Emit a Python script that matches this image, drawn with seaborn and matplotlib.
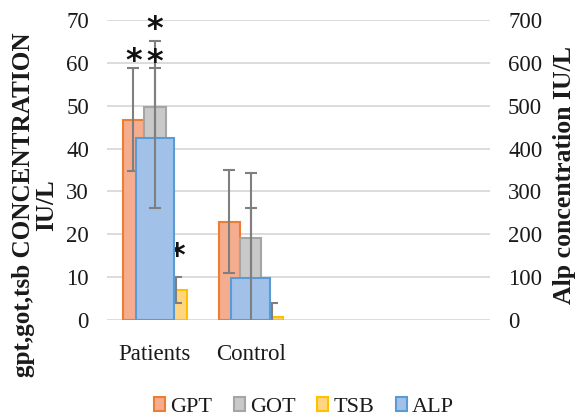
import numpy as np
import pandas as pd
import seaborn as sns
import matplotlib.pyplot as plt
from matplotlib.patches import Patch

# ---- data ----
slots = ["Patients", "Control", " ", "  "]          # two labelled groups + two empty slots
groups = ["Patients", "Control"]
tests = ["GPT", "GOT", "TSB"]
gpt_mean = [46.7, 22.9]
gpt_sd = [12.0, 12.0]
got_mean = [49.8, 19.1]
got_sd = [15.2, 15.3]
tsb_mean = [7.0, 0.8]
tsb_sd = [3.0, 3.2]
alp_mean = [424.0, 99.0]
alp_sd = [163.0, 163.0]
# significance stars: (series, group, height on left axis)
stars = [("GPT", "Patients", 61.8), ("GOT", "Patients", 69.3),
         ("GOT", "Patients", 61.4), ("TSB", "Patients", 16.3)]
left_title = "gpt,got,tsb CONCENTRATION\nIU/L"
right_title = "Alp concentration IU/L"

fills = {"GPT": "#F5AD8E", "GOT": "#C9C9C9", "TSB": "#FFD580", "ALP": "#A2C1E8"}
edges = {"GPT": "#ED7D31", "GOT": "#A5A5A5", "TSB": "#FFC000", "ALP": "#5B9BD5"}
err_col = "#7F7F7F"
txt_col = "#1A1A1A"

sns.set_theme(style="white")
plt.rcParams["font.family"] = ["Liberation Serif", "DejaVu Serif"]

means = {"GPT": gpt_mean, "GOT": got_mean, "TSB": tsb_mean}
sds = {"GPT": gpt_sd, "GOT": got_sd, "TSB": tsb_sd}
rows = []
for t in tests:
    for g, m in zip(groups, means[t]):
        rows.append({"group": g, "test": t, "value": m})
df = pd.DataFrame(rows)
df_alp = pd.DataFrame({"group": groups, "value": alp_mean})

W, H = 577, 420
fig = plt.figure(figsize=(W / 100, H / 100), dpi=100)
ax = fig.add_axes([107 / W, 1 - 320 / H, 383 / W, 300 / H])

sns.barplot(data=df, x="group", y="value", hue="test", order=slots,
            hue_order=tests, palette=fills, width=0.67, errorbar=None,
            saturation=1, legend=False, ax=ax, linewidth=1.5)

centers = {}
for cont, t in zip(ax.containers, tests):
    bars = sorted(cont, key=lambda b: b.get_x())
    xs = []
    for b in bars:
        b.set_edgecolor(edges[t])
        b.set_linewidth(1.5)
        xs.append(b.get_x() + b.get_width() / 2)
    centers[t] = xs
    ax.errorbar(xs, means[t], yerr=sds[t], fmt="none", ecolor=err_col,
                elinewidth=1.5, capsize=4, capthick=1.5, zorder=3)

ax.set_ylim(0, 70)
ax.set_yticks(np.arange(0, 71, 10))
ax.yaxis.grid(True, color="#D9D9D9", lw=1.3)
ax.set_axisbelow(True)
for s in ax.spines.values():
    s.set_visible(False)
ax.tick_params(axis="both", length=0, labelsize=16.5, colors=txt_col)
ax.tick_params(axis="y", pad=13)
ax.tick_params(axis="x", pad=17)
ax.set_xlabel("")
ax.set_ylabel("")

ax2 = ax.twinx()
sns.barplot(data=df_alp, x="group", y="value", order=slots, color=fills["ALP"],
            width=0.40, errorbar=None, saturation=1, ax=ax2,
            edgecolor=edges["ALP"], linewidth=1.5)
alp_x = [b.get_x() + b.get_width() / 2 for b in sorted(ax2.patches, key=lambda b: b.get_x())]
ax2.errorbar(alp_x, alp_mean, yerr=alp_sd, fmt="none", ecolor=err_col,
             elinewidth=1.5, capsize=4, capthick=1.5, zorder=3)
ax2.set_ylim(0, 700)
ax2.set_yticks(np.arange(0, 701, 100))
ax2.grid(False)
for s in ax2.spines.values():
    s.set_visible(False)
ax2.tick_params(axis="y", length=0, labelsize=16.5, pad=13, colors=txt_col)
ax2.set_ylabel("")
ax2.set_xlabel("")
ax.set_xlim(-0.5, 3.5)
ax2.set_xlim(-0.5, 3.5)

for t, g, yv in stars:
    x = centers[t][groups.index(g)]
    ax.annotate("*", (x, yv), xytext=(0, -10.5), textcoords="offset points",
                ha="center", va="baseline", fontsize=23, fontweight="bold",
                family="DejaVu Sans", color="#111111", zorder=5,
                annotation_clip=False)

# axis titles: placed by centre and fitted to the length seen in the reference
def axis_title(text, cx, cy, length_px):
    t = fig.text(cx / W, 1 - cy / H, text, rotation=90, ha="center", va="center",
                 fontsize=17, fontweight="bold", color=txt_col, linespacing=1.05,
                 multialignment="center")
    fig.canvas.draw()
    bb = t.get_window_extent(fig.canvas.get_renderer())
    t.set_fontsize(17 * length_px / bb.height)
    return t

axis_title(left_title, 35, 205, 344)
axis_title(right_title, 564, 175, 258)

handles = [Patch(facecolor=fills[k], edgecolor=edges[k], lw=1.5, label=k)
           for k in ["GPT", "GOT", "TSB", "ALP"]]
fig.legend(handles=handles, loc="center", bbox_to_anchor=(304 / W, 1 - 407 / H),
           ncol=4, frameon=False, fontsize=16, handlelength=0.5, handleheight=0.55,
           handletextpad=0.25, columnspacing=0.95, borderaxespad=0,
           labelcolor=txt_col)

fig.savefig("out.png", dpi=100)
